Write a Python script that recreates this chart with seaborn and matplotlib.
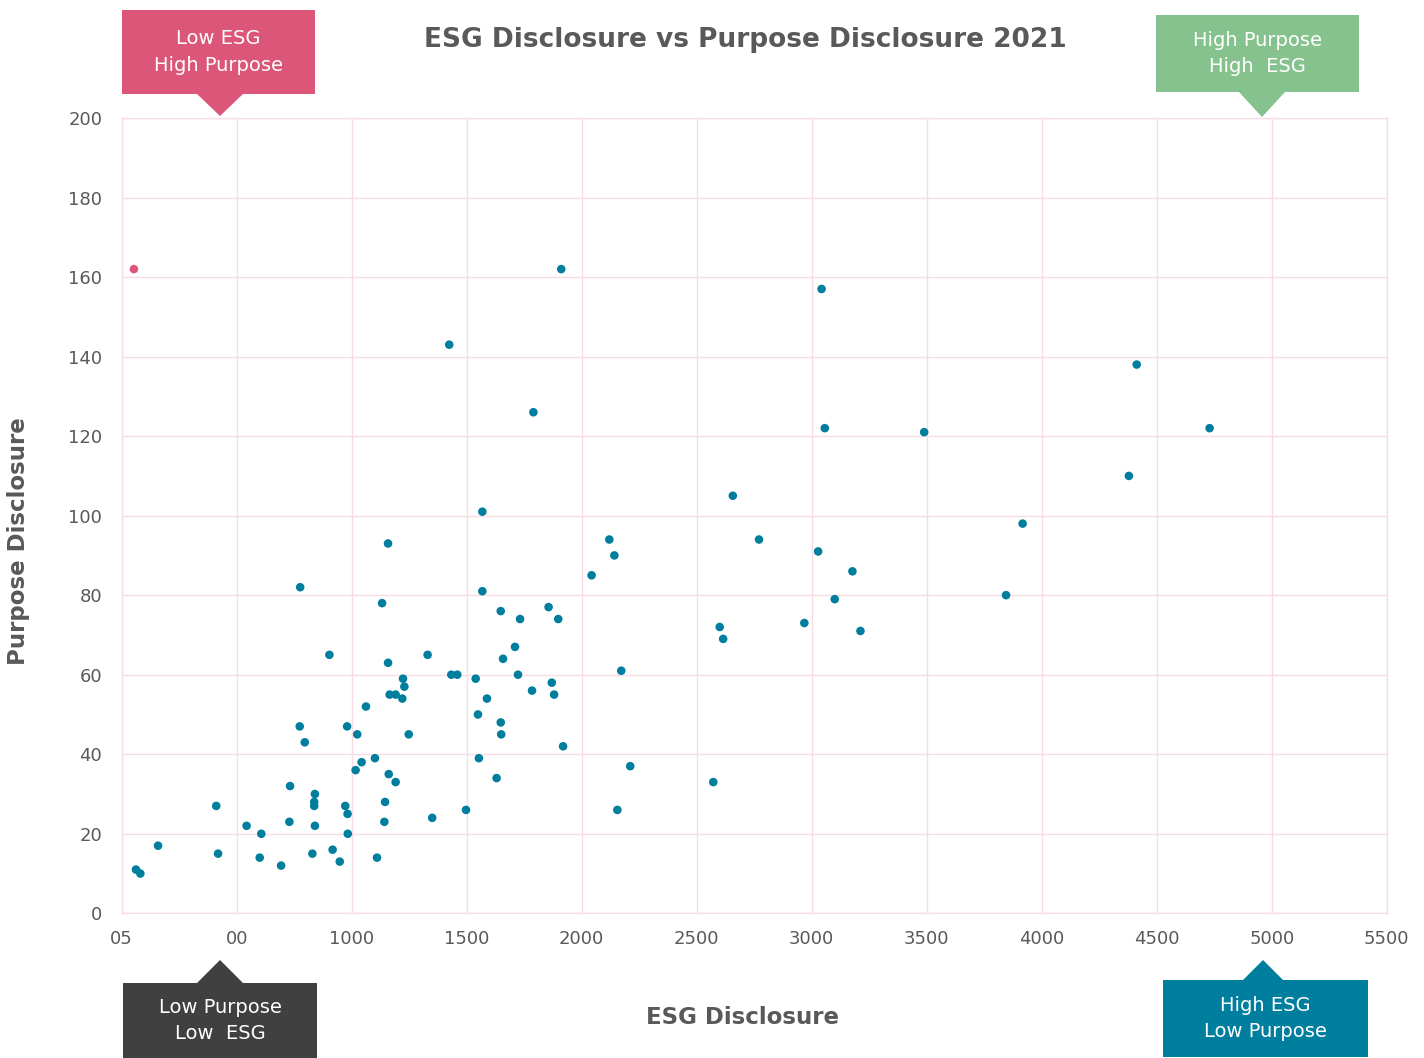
import matplotlib
matplotlib.use("Agg")
import matplotlib.pyplot as plt
from matplotlib.patches import Polygon
import numpy as np
import pandas as pd
import seaborn as sns

# ESG disclosure score per company (x) and purpose disclosure score (y)
esg = [
    1568, 1158, 776, 1568, 1132, 1648, 903, 1158, 1330, 1433,
    1459, 1539, 1223, 1229, 1165, 1191, 1220, 1588, 1062, 1549,
    1648, 774, 980, 1650, 1024, 1248, 796, 1101, 1553, 1043,
    1017, 732, 1161, 1191, 1630, 840, 837, 837, 411, 972,
    1145, 982, 1497, 1350, 543, 729, 840, 1142, 607, 983,
    158, 917, 419, 829, 600, 1110, 948, 693, 62, 81,
    2120, 2142, 2043, 1856, 1732, 1898, 1710, 1658, 1723, 2172,
    1870, 1784, 1880, 1919, 2211, 2155,
    1911, 1424, 1790, 3043, 4413, 3057, 3489, 4730, 4379, 2657,
    3917, 2771, 3028, 3177, 3100, 3845, 2600, 2615, 2968, 3212,
    2572,
    53,
]
purpose = [
    101, 93, 82, 81, 78, 76, 65, 63, 65, 60,
    60, 59, 59, 57, 55, 55, 54, 54, 52, 50,
    48, 47, 47, 45, 45, 45, 43, 39, 39, 38,
    36, 32, 35, 33, 34, 30, 28, 27, 27, 27,
    28, 25, 26, 24, 22, 23, 22, 23, 20, 20,
    17, 16, 15, 15, 14, 14, 13, 12, 11, 10,
    94, 90, 85, 77, 74, 74, 67, 64, 60, 61,
    58, 56, 55, 42, 37, 26,
    162, 143, 126, 157, 138, 122, 121, 122, 110, 105,
    98, 94, 91, 86, 79, 80, 72, 69, 73, 71,
    33,
    162,
]
group = ["Companies"] * (len(esg) - 1) + ["Outlier"]

x_ticks = [0, 500, 1000, 1500, 2000, 2500, 3000, 3500, 4000, 4500, 5000, 5500]
x_tick_labels = ["05", "00", "1000", "1500", "2000", "2500", "3000",
                 "3500", "4000", "4500", "5000", "5500"]
y_ticks = [0, 20, 40, 60, 80, 100, 120, 140, 160, 180, 200]

df = pd.DataFrame({"ESG Disclosure": esg, "Purpose Disclosure": purpose,
                   "group": group})

TEAL = "#007E9E"
PINK = "#DC5679"
GREEN = "#86C28E"
DARK = "#404040"
GRID = "#F7DCE4"
TEXT = "#595959"

sns.set_theme(style="white")
plt.rcParams["font.family"] = ["DejaVu Sans"]

W, H = 1424, 1058
fig = plt.figure(figsize=(W / 100, H / 100), dpi=100)
ax = fig.add_axes([121.7 / W, 1 - 913.3 / H, 1265 / W, 795.3 / H])

sns.scatterplot(data=df, x="ESG Disclosure", y="Purpose Disclosure",
                hue="group", palette={"Companies": TEAL, "Outlier": PINK},
                s=38, linewidth=0, legend=False, ax=ax, zorder=3)

ax.set_xlim(0, 5500)
ax.set_ylim(0, 200)
ax.set_xticks(x_ticks)
ax.set_xticklabels(x_tick_labels)
ax.set_yticks(y_ticks)
ax.grid(True, color=GRID, linewidth=1)
for sp in ax.spines.values():
    sp.set_color(GRID)
    sp.set_linewidth(1)
ax.tick_params(axis="both", length=0, labelsize=13, colors=TEXT)
ax.tick_params(axis="x", pad=12)
ax.tick_params(axis="y", pad=14)
ax.set_xlabel("")
ax.set_ylabel("")

fig.text(745 / W, 1 - 40 / H, "ESG Disclosure vs Purpose Disclosure 2021",
         ha="center", va="center", fontsize=19, fontweight="bold", color=TEXT)
fig.text(743 / W, 1 - 1017 / H, "ESG Disclosure", ha="center", va="center",
         fontsize=16.5, fontweight="bold", color=TEXT)
fig.text(19 / W, 1 - 541 / H, "Purpose Disclosure", ha="center", va="center",
         rotation=90, fontsize=16.5, fontweight="bold", color=TEXT)


def callout(x0, x1, y0, y1, tip_x, tip_y, base_half, color, label):
    """Rectangular label box with a triangular pointer (pixel coords, y down)."""
    if tip_y > y1:      # pointer below the box
        pts = [(x0, y0), (x1, y0), (x1, y1), (tip_x + base_half, y1),
               (tip_x, tip_y), (tip_x - base_half, y1), (x0, y1)]
    else:               # pointer above the box
        pts = [(x0, y0), (tip_x - base_half, y0), (tip_x, tip_y),
               (tip_x + base_half, y0), (x1, y0), (x1, y1), (x0, y1)]
    pts = [(px / W, 1 - py / H) for px, py in pts]
    fig.patches.append(Polygon(pts, closed=True, facecolor=color,
                               edgecolor="none", transform=fig.transFigure))
    fig.text(((x0 + x1) / 2) / W, 1 - ((y0 + y1) / 2) / H, label,
             ha="center", va="center", color="white", fontsize=14,
             linespacing=1.5)


callout(122, 315, 10, 94, 220, 116, 23, PINK, "Low ESG\nHigh Purpose")
callout(1156, 1359, 15, 92, 1262, 117, 23, GREEN, "High Purpose\nHigh  ESG")
callout(123, 317, 983, 1058, 220, 960, 23, DARK, "Low Purpose\nLow  ESG")
callout(1163, 1368, 980, 1057, 1263, 960, 20, TEAL, "High ESG\nLow Purpose")

fig.savefig("out.png", dpi=100)
